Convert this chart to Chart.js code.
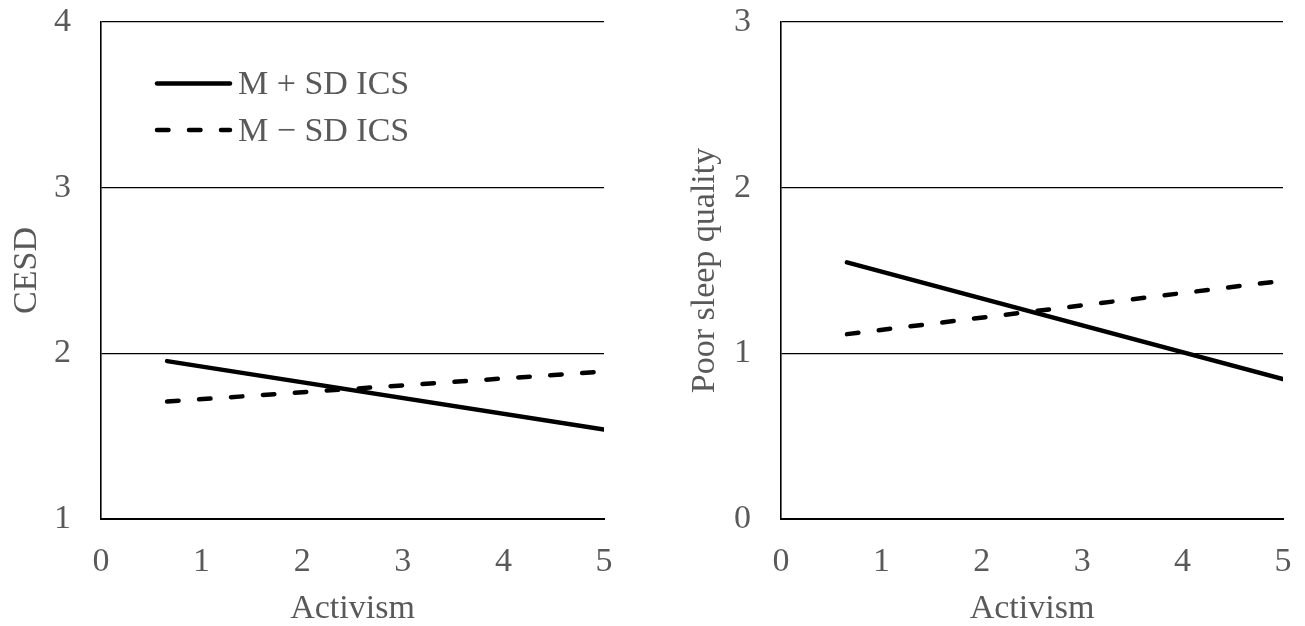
<!DOCTYPE html>
<html>
<head>
<meta charset="utf-8">
<script src="https://cdn.jsdelivr.net/npm/chart.js@4/dist/chart.umd.min.js"></script>
<style>
	html, body { margin: 0; padding: 0; background: #ffffff; }
	.panel { position: absolute; top: 0; }
	#leftPanel { left: 0; }
	#rightPanel { left: 680px; }
</style>
</head>
<body>
<div class="panel" id="leftPanel"><canvas id="cesdChart" width="640" height="626"></canvas></div>
<div class="panel" id="rightPanel"><canvas id="sleepChart" width="625" height="626"></canvas></div>
<script>
	// =====================================
	// DATA
	// =====================================

	const activismPoints = [0.657, 5];
	const xTicks = [0, 1, 2, 3, 4, 5];

	const cesdHighIcs = [1.953, 1.54];
	const cesdLowIcs = [1.709, 1.89];
	const cesdTicks = [1, 2, 3, 4];

	const sleepHighIcs = [1.549, 0.845];
	const sleepLowIcs = [1.116, 1.438];
	const sleepTicks = [0, 1, 2, 3];

	const seriesLabels = ['M + SD ICS', 'M \u2212 SD ICS'];

	// =====================================
	// STYLE
	// =====================================

	const FONT_FAMILY = '"Liberation Serif", "Times New Roman", serif';
	const TEXT_COLOR = '#595959';
	const FONT_SIZE = 34;

	const toPoints = (ys) => ys.map((y, i) => ({ x: activismPoints[i], y }));

	const makeDatasets = (high, low) => [
		{
			label: seriesLabels[0],
			data: toPoints(high),
			borderColor: '#000000',
			borderWidth: 4.5,
			borderCapStyle: 'round',
			pointRadius: 0,
			fill: false,
		},
		{
			label: seriesLabels[1],
			data: toPoints(low),
			borderColor: '#000000',
			borderWidth: 4.5,
			borderDash: [11.5, 20.5],
			borderCapStyle: 'round',
			pointRadius: 0,
			fill: false,
		},
	];

	// legend drawn inside the plot, top left (only on the CESD panel)
	const insideLegend = {
		id: 'insideLegend',
		afterDatasetsDraw(chart, args, opts) {
			if (!opts.show) return;
			const { ctx } = chart;
			const rows = [
				{ lineY: 83.5, textY: 85 },
				{ lineY: 130, textY: 132 },
			];
			chart.data.datasets.forEach((ds, i) => {
				const row = rows[i];
				ctx.save();
				ctx.strokeStyle = ds.borderColor;
				ctx.lineWidth = ds.borderWidth;
				ctx.lineCap = ds.borderCapStyle;
				ctx.setLineDash(ds.borderDash || []);
				ctx.beginPath();
				ctx.moveTo(157, row.lineY);
				ctx.lineTo(230, row.lineY);
				ctx.stroke();
				ctx.setLineDash([]);
				ctx.fillStyle = TEXT_COLOR;
				ctx.font = `${FONT_SIZE}px ${FONT_FAMILY}`;
				ctx.textAlign = 'left';
				ctx.textBaseline = 'middle';
				ctx.fillText(ds.label, 238, row.textY);
				ctx.restore();
			});
		},
	};

	// =====================================
	// CHART FACTORY
	// =====================================

	const buildChart = (canvasId, { high, low, yTicks, yTitle, rightPad, yTitlePad, showLegend }) => {
		return new Chart(document.getElementById(canvasId), {
			type: 'line',
			data: { datasets: makeDatasets(high, low) },
			plugins: [insideLegend],
			options: {
				responsive: false,
				animation: false,
				devicePixelRatio: 1,
				layout: { padding: { top: 22, right: rightPad, bottom: 0, left: 0 } },
				plugins: {
					legend: { display: false },
					tooltip: { enabled: false },
					insideLegend: { show: showLegend },
				},
				scales: {
					x: {
						type: 'linear',
						min: xTicks[0],
						max: xTicks[xTicks.length - 1],
						afterBuildTicks: (scale) => {
							scale.ticks = xTicks.map((v) => ({ value: v }));
						},
						afterFit: (scale) => {
							// fixed axis band, no extra room for label overhang
							scale.height = 107;
							scale.paddingLeft = 0;
							scale.paddingRight = 0;
						},
						grid: { display: false, drawTicks: false },
						border: { display: true, color: '#000000', width: 2 },
						ticks: {
							color: TEXT_COLOR,
							padding: 23,
							font: { family: FONT_FAMILY, size: FONT_SIZE },
						},
						title: {
							display: true,
							text: 'Activism',
							color: TEXT_COLOR,
							padding: { top: 0, bottom: -3 },
							font: { family: FONT_FAMILY, size: FONT_SIZE },
						},
					},
					y: {
						type: 'linear',
						min: yTicks[0],
						max: yTicks[yTicks.length - 1],
						afterBuildTicks: (scale) => {
							scale.ticks = yTicks.map((v) => ({ value: v }));
						},
						afterFit: (scale) => {
							scale.width = 101;
							scale.paddingTop = 0;
							scale.paddingBottom = 0;
						},
						grid: { color: '#000000', lineWidth: 1.3, drawTicks: false },
						border: { display: true, color: '#000000', width: 1.6 },
						ticks: {
							color: TEXT_COLOR,
							padding: 30,
							font: { family: FONT_FAMILY, size: FONT_SIZE },
						},
						title: {
							display: true,
							text: yTitle,
							color: TEXT_COLOR,
							padding: { top: yTitlePad, bottom: 0 },
							font: { family: FONT_FAMILY, size: FONT_SIZE },
						},
					},
				},
			},
		});
	};

	buildChart('cesdChart', {
		high: cesdHighIcs,
		low: cesdLowIcs,
		yTicks: cesdTicks,
		yTitle: 'CESD',
		rightPad: 36,
		yTitlePad: 7,
		showLegend: true,
	});

	buildChart('sleepChart', {
		high: sleepHighIcs,
		low: sleepLowIcs,
		yTicks: sleepTicks,
		yTitle: 'Poor sleep quality',
		rightPad: 22,
		yTitlePad: 5,
		showLegend: false,
	});
</script>
</body>
</html>
